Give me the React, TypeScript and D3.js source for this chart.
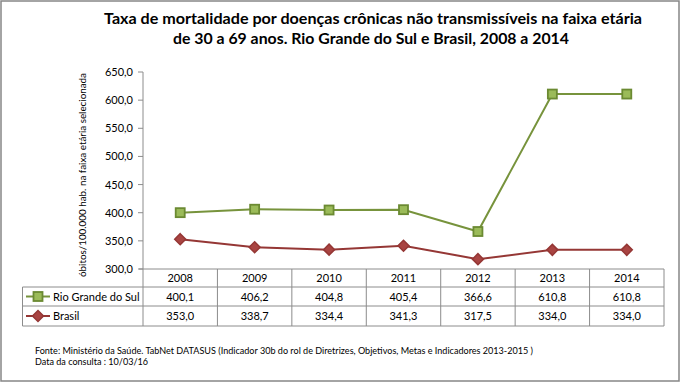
import React from "react";
import * as d3 from "d3";

const years = ["2008", "2009", "2010", "2011", "2012", "2013", "2014"];
const rgs = [400.1, 406.2, 404.8, 405.4, 366.6, 610.8, 610.8];
const brasil = [353.0, 338.7, 334.4, 341.3, 317.5, 334.0, 334.0];
const yTicks = [300, 350, 400, 450, 500, 550, 600, 650];
const seriesNames = ["Rio Grande do Sul", "Brasil"];
const titleLines = [
  "Taxa de mortalidade por doenças crônicas não transmissíveis na faixa etária",
  "de 30 a 69 anos. Rio Grande do Sul e Brasil, 2008 a 2014",
];
const yLabel = "óbitos/100.000 hab. na faixa etária selecionada";
const footer = [
  "Fonte: Ministério da Saúde. TabNet DATASUS (Indicador 30b do rol de Diretrizes, Objetivos, Metas e Indicadores 2013-2015 )",
  "Data da consulta : 10/03/16",
];

const W = 680, H = 383;
const left = 143, right = 664, top = 72, bottom = 269;
const tableLeft = 22.5;
const rowH = [269, 287, 306, 326];
const green = "#77933c", greenFill = "#9bbb59", greenDark = "#6b8a32";
const red = "#953735", redFill = "#a94442";
const font = "Lato, 'Open Sans', sans-serif";
const fmt = (v: number) => v.toFixed(1).replace(".", ",");

export default function App() {
  const x = d3.scaleBand<string>().domain(years).range([left, right]);
  const cx = (d: string) => (x(d) as number) + x.bandwidth() / 2;
  const y = d3.scaleLinear().domain([300, 650]).range([bottom, top]);
  const line = d3.line<number>().x((_, i) => cx(years[i])).y((v) => y(v));
  const seriesVals = [rgs, brasil];
  const gridCol = "#8c8c8c";

  const square = (px: number, py: number, k: string) => (
    <rect key={k} x={px - 4.5} y={py - 4.5} width={9} height={9} fill={greenFill} stroke={greenDark} strokeWidth={1.8} />
  );
  const diamond = (px: number, py: number, k: string) => (
    <path key={k} d={`M${px},${py - 5.5}L${px + 5.5},${py}L${px},${py + 5.5}L${px - 5.5},${py}Z`} fill={redFill} stroke={red} strokeWidth={1.5} />
  );

  return (
    <svg width={W} height={H} style={{ position: "absolute", left: 0, top: 0, fontFamily: font }}>
      <rect x={0} y={0} width={W} height={H} fill="#fff" />
      <rect x={1} y={1} width={678} height={380} fill="none" stroke="#868686" strokeWidth={1.5} />
      {/* title */}
      <text x={373} y={24} textAnchor="middle" fontWeight="bold" fontSize={15.5} fill="#000" textLength={538} lengthAdjust="spacingAndGlyphs">{titleLines[0]}</text>
      <text x={371} y={44} textAnchor="middle" fontWeight="bold" fontSize={15.5} fill="#000" textLength={396} lengthAdjust="spacingAndGlyphs">{titleLines[1]}</text>
      {/* y label */}
      <text transform={`translate(86,175) rotate(-90)`} textAnchor="middle" fontSize={10} fill="#000" textLength={204} lengthAdjust="spacingAndGlyphs">{yLabel}</text>
      {/* y axis */}
      <line x1={left} x2={left} y1={top} y2={bottom} stroke={gridCol} strokeWidth={1} />
      {yTicks.map((t) => (
        <g key={t}>
          <line x1={left - 5} x2={left} y1={y(t)} y2={y(t)} stroke={gridCol} />
          <text x={133} y={y(t) + 4} textAnchor="end" fontSize={11} fill="#000">{fmt(t)}</text>
        </g>
      ))}
      {/* x axis + table */}
      <line x1={left - 4} x2={right} y1={bottom} y2={bottom} stroke={gridCol} />
      {years.map((yr, i) => (
        <line key={"v" + yr} x1={(x(yr) as number) + x.bandwidth()} x2={(x(yr) as number) + x.bandwidth()} y1={rowH[0]} y2={rowH[3]} stroke={gridCol} />
      ))}
      <line x1={left} x2={left} y1={rowH[0]} y2={rowH[3]} stroke={gridCol} />
      <line x1={tableLeft} x2={tableLeft} y1={rowH[1]} y2={rowH[3]} stroke={gridCol} />
      {[1, 2, 3].map((r) => (
        <line key={"h" + r} x1={tableLeft} x2={right} y1={rowH[r]} y2={rowH[r]} stroke={gridCol} />
      ))}
      {years.map((yr) => (
        <text key={"t" + yr} x={cx(yr)} y={282} textAnchor="middle" fontSize={11} fill="#000">{yr}</text>
      ))}
      {seriesVals.map((vals, s) =>
        vals.map((v, i) => (
          <text key={"c" + s + i} x={cx(years[i])} y={(rowH[s + 1] + rowH[s + 2]) / 2 + 4} textAnchor="middle" fontSize={11} fill="#000">{fmt(v)}</text>
        ))
      )}
      {seriesNames.map((n, s) => {
        const ry = (rowH[s + 1] + rowH[s + 2]) / 2;
        return (
          <g key={n}>
            <line x1={26} x2={50} y1={ry} y2={ry} stroke={s === 0 ? green : red} strokeWidth={2} />
            {s === 0 ? square(38, ry, "ls") : diamond(38, ry, "ld")}
            <text x={53} y={ry + 4} fontSize={11} fill="#000">{n}</text>
          </g>
        );
      })}
      {/* series */}
      <path d={line(rgs) as string} fill="none" stroke={green} strokeWidth={2} />
      <path d={line(brasil) as string} fill="none" stroke={red} strokeWidth={2} />
      {rgs.map((v, i) => square(cx(years[i]), y(v), "g" + i))}
      {brasil.map((v, i) => diamond(cx(years[i]), y(v), "r" + i))}
      {/* footer */}
      <text x={35} y={354} fontSize={9} fill="#000" textLength={498} lengthAdjust="spacingAndGlyphs">{footer[0]}</text>
      <text x={35} y={365} fontSize={9} fill="#000" textLength={113} lengthAdjust="spacingAndGlyphs">{footer[1]}</text>
    </svg>
  );
}
